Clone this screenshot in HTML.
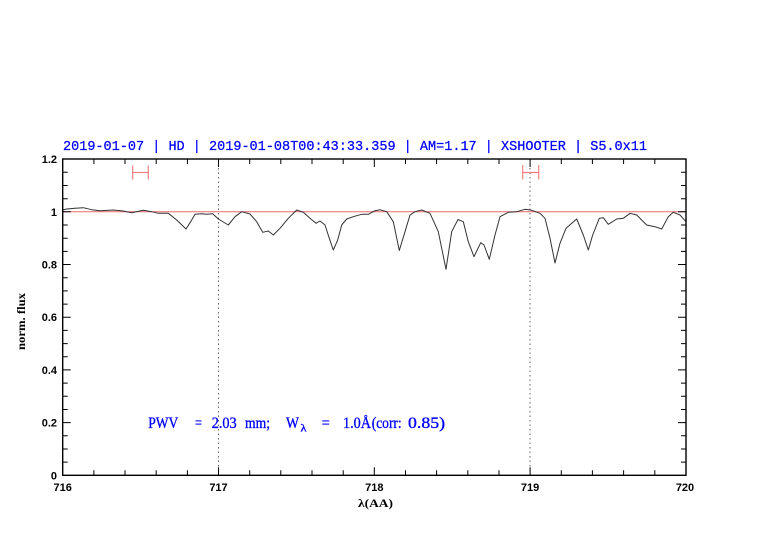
<!DOCTYPE html>
<html>
<head>
<meta charset="utf-8">
<style>
html,body{margin:0;padding:0;background:#fff;}
svg{display:block;}
</style>
</head>
<body>
<svg width="782" height="542" viewBox="0 0 782 542" xmlns="http://www.w3.org/2000/svg">
<rect width="782" height="542" fill="#fff"/>

<!-- title -->
<text x="63" y="150" font-family="Liberation Mono, monospace" font-size="14" fill="#0000ff" stroke="#0000ff" stroke-width="0.25" textLength="584" lengthAdjust="spacingAndGlyphs" xml:space="preserve">2019-01-07 | HD | 2019-01-08T00:43:33.359 | AM=1.17 | XSHOOTER | S5.0x11</text>

<!-- dotted verticals -->
<line x1="218.5" y1="159" x2="218.5" y2="475" stroke="#666" stroke-width="1" stroke-dasharray="1.5,3"/>
<line x1="530" y1="159" x2="530" y2="475" stroke="#666" stroke-width="1" stroke-dasharray="1.5,3"/>

<!-- reference line at 1 -->
<line x1="62.7" y1="211.8" x2="686" y2="211.8" stroke="#f06868" stroke-width="1"/>

<!-- red error bars -->
<g stroke="#f08080" stroke-width="1.2" fill="none">
<line x1="132.7" y1="172.5" x2="148.3" y2="172.5"/>
<line x1="132.7" y1="165.5" x2="132.7" y2="179.5"/>
<line x1="148.3" y1="165.5" x2="148.3" y2="179.5"/>
<line x1="522.7" y1="172.5" x2="538.7" y2="172.5"/>
<line x1="522.7" y1="165" x2="522.7" y2="179.5"/>
<line x1="538.7" y1="165" x2="538.7" y2="179.5"/>
</g>

<!-- spectrum -->
<polyline fill="none" stroke="#333" stroke-width="1" stroke-linejoin="round" points="62.7,210 66.7,209 75,208.3 83.3,207.7 91.7,209.7 100,210.7 113.3,210 123.3,211 131.7,212.7 143.3,210.3 151.7,211.7 158.3,213.3 168.3,213.3 176.7,220 186,229 190.7,221.7 195,214.3 201.7,213.7 206.7,214.3 212.7,213.7 218.3,219 228.3,225 235,216.7 241.7,211.7 250,214 256.7,221.7 262.7,232.3 268.3,231 273.3,235 280,228.3 288.3,218.3 296.7,210 303.3,212.3 310,218.3 316,223.3 320,221 325,225 329.3,238.3 333.3,250 337.7,240 341.7,225 346.7,219 353.3,216.7 361.7,214.3 368.3,214.3 375,210.7 380,209.7 386.7,211.7 393.3,221.7 399.3,250.5 405,231.7 410,215 415,211.7 421.7,210 430,213.3 438.3,231.7 446,269.3 451.7,231.7 458,219.5 463.3,221.7 468.3,241.7 474,256.7 480.7,242.7 484,245 489.3,259.3 495,235 500,216.7 508.3,212.3 516.7,211.7 525,209.3 531.7,210.3 540,213.3 545,218.3 550,238.3 555,263 560,243.3 566,228.3 576.7,219 583.3,235 588.3,250 592.7,235 599.3,218.3 603.3,217.7 608.3,224.3 616.7,219 623.3,218.3 630,213.3 636.7,215 646.7,225 655,226.7 661.7,229 668.3,216.7 673.3,212.3 680,215 686,221.7"/>

<!-- ticks -->
<g stroke="#000" stroke-width="1">
<path d="M93.9,475.3v-5 M125,475.3v-5 M156.2,475.3v-5 M187.4,475.3v-5 M218.5,475.3v-8
M249.7,475.3v-5 M280.8,475.3v-5 M312,475.3v-5 M343.2,475.3v-5 M374.3,475.3v-8
M405.5,475.3v-5 M436.6,475.3v-5 M467.8,475.3v-5 M499,475.3v-5 M530.1,475.3v-8
M561.3,475.3v-5 M592.4,475.3v-5 M623.6,475.3v-5 M654.8,475.3v-5"/>
<path d="M93.9,159v5 M125,159v5 M156.2,159v5 M187.4,159v5 M218.5,159v8
M249.7,159v5 M280.8,159v5 M312,159v5 M343.2,159v5 M374.3,159v8
M405.5,159v5 M436.6,159v5 M467.8,159v5 M499,159v5 M530.1,159v8
M561.3,159v5 M592.4,159v5 M623.6,159v5 M654.8,159v5"/>
<path d="M62.7,462.1h5 M62.7,449h5 M62.7,435.8h5 M62.7,422.6h8 M62.7,409.5h5 M62.7,396.3h5 M62.7,383.1h5 M62.7,369.9h8
M62.7,356.8h5 M62.7,343.6h5 M62.7,330.4h5 M62.7,317.2h8 M62.7,304.1h5 M62.7,290.9h5 M62.7,277.7h5 M62.7,264.5h8
M62.7,251.4h5 M62.7,238.2h5 M62.7,225h5 M62.7,211.8h8 M62.7,198.7h5 M62.7,185.5h5 M62.7,172.3h5"/>
<path d="M686,462.1h-5 M686,449h-5 M686,435.8h-5 M686,422.6h-8 M686,409.5h-5 M686,396.3h-5 M686,383.1h-5 M686,369.9h-8
M686,356.8h-5 M686,343.6h-5 M686,330.4h-5 M686,317.2h-8 M686,304.1h-5 M686,290.9h-5 M686,277.7h-5 M686,264.5h-8
M686,251.4h-5 M686,238.2h-5 M686,225h-5 M686,211.8h-8 M686,198.7h-5 M686,185.5h-5 M686,172.3h-5"/>
</g>

<!-- frame -->
<rect x="62.7" y="159" width="623.3" height="316.3" fill="none" stroke="#000" stroke-width="1.4"/>

<!-- y tick labels -->
<g font-family="Liberation Sans, sans-serif" font-size="11" font-weight="bold" fill="#000" text-anchor="end">
<text x="57" y="479.3">0</text>
<text x="57" y="426.6">0.2</text>
<text x="57" y="373.9">0.4</text>
<text x="57" y="321.2">0.6</text>
<text x="57" y="268.5">0.8</text>
<text x="57" y="215.8">1</text>
<text x="57" y="163">1.2</text>
</g>

<!-- x tick labels -->
<g font-family="Liberation Sans, sans-serif" font-size="11" font-weight="bold" fill="#000" text-anchor="middle">
<text x="62.7" y="491">716</text>
<text x="218.5" y="491">717</text>
<text x="374.3" y="491">718</text>
<text x="530.1" y="491">719</text>
<text x="685" y="491">720</text>
</g>

<!-- axis labels -->
<text x="375.5" y="507" font-family="Liberation Serif, serif" font-size="12" font-weight="bold" fill="#000" text-anchor="middle" textLength="35" lengthAdjust="spacingAndGlyphs">λ(AA)</text>
<text transform="translate(25,321.5) rotate(-90)" x="0" y="0" font-family="Liberation Serif, serif" font-size="12" font-weight="bold" fill="#000" text-anchor="middle" textLength="57" lengthAdjust="spacingAndGlyphs">norm. flux</text>

<!-- PWV annotation -->
<g font-family="Liberation Serif, serif" font-size="16" fill="#0000ff" stroke="#0000ff" stroke-width="0.35">
<text x="148.3" y="428" textLength="30" lengthAdjust="spacingAndGlyphs">PWV</text>
<text x="195" y="428" textLength="7" lengthAdjust="spacingAndGlyphs">=</text>
<text x="211.7" y="428" textLength="25" lengthAdjust="spacingAndGlyphs">2.03</text>
<text x="245" y="428" textLength="25" lengthAdjust="spacingAndGlyphs">mm;</text>
<text x="286" y="428" textLength="13" lengthAdjust="spacingAndGlyphs">W</text>
<text x="300.5" y="431.5" font-size="11" textLength="6" lengthAdjust="spacingAndGlyphs">λ</text>
<text x="321.7" y="428" textLength="8" lengthAdjust="spacingAndGlyphs">=</text>
<text x="343" y="428" textLength="28" lengthAdjust="spacingAndGlyphs">1.0Å</text>
<text x="371.7" y="428" textLength="30" lengthAdjust="spacingAndGlyphs">(corr:</text>
<text x="408" y="428" textLength="37" lengthAdjust="spacingAndGlyphs">0.85)</text>
</g>
</svg>
</body>
</html>
